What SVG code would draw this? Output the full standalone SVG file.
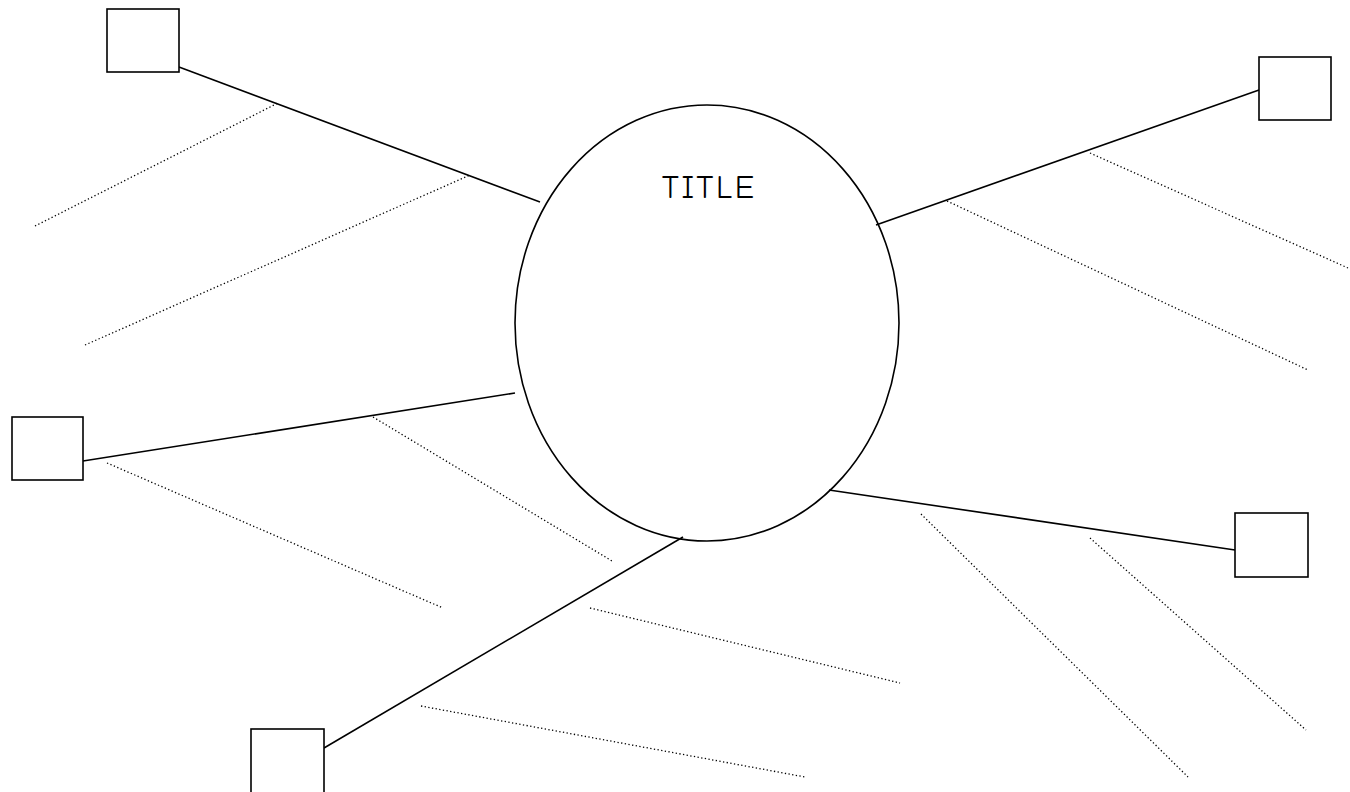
<svg xmlns="http://www.w3.org/2000/svg" width="1350" height="792" viewBox="0 0 1350 792">
<style>
.box{fill:#fff;stroke:#000;stroke-width:1.6}
.ln{stroke:#000;stroke-width:1.6;fill:none}
.dot{stroke:#000;stroke-width:1.3;stroke-dasharray:1.3 2.4;fill:none}
.t{font-family:"Comic Sans MS","Comic Neue","DejaVu Sans",sans-serif;font-size:32px;fill:#000}
</style>
<rect width="1350" height="792" fill="#fff"/>
<g id="connectors">
<line class="ln" x1="179" y1="67" x2="540" y2="202"/>
<line class="ln" x1="83" y1="461" x2="515" y2="393"/>
<line class="ln" x1="1259" y1="90" x2="876" y2="225"/>
<line class="ln" x1="1235" y1="550" x2="829" y2="490"/>
<line class="ln" x1="324" y1="748" x2="683" y2="537"/>
<line class="dot" x1="35" y1="226" x2="278" y2="103"/>
<line class="dot" x1="85" y1="345" x2="470" y2="175"/>
<line class="dot" x1="1090" y1="153" x2="1348" y2="268"/>
<line class="dot" x1="947" y1="201" x2="1308" y2="370"/>
<line class="dot" x1="107" y1="463" x2="443" y2="608"/>
<line class="dot" x1="373" y1="417" x2="612" y2="561"/>
<line class="dot" x1="590" y1="608" x2="900" y2="683"/>
<line class="dot" x1="421" y1="706" x2="805" y2="777"/>
<line class="dot" x1="921" y1="514" x2="1188" y2="777"/>
<line class="dot" x1="1090" y1="538" x2="1306" y2="730"/>
</g>
<g id="center">
<ellipse cx="707" cy="323" rx="192" ry="218" fill="none" stroke="#000" stroke-width="1.6"/>
<text class="t" x="662" y="198" textLength="92" lengthAdjust="spacing">TITLE</text>
</g>
<g id="box-tl"><rect class="box" x="107" y="9" width="72" height="63"/></g>
<g id="box-l"><rect class="box" x="12" y="417" width="71" height="63"/></g>
<g id="box-tr"><rect class="box" x="1259" y="57" width="72" height="63"/></g>
<g id="box-r"><rect class="box" x="1235" y="513" width="73" height="64"/></g>
<g id="box-bl"><rect class="box" x="251" y="729" width="73" height="64"/></g>
</svg>
